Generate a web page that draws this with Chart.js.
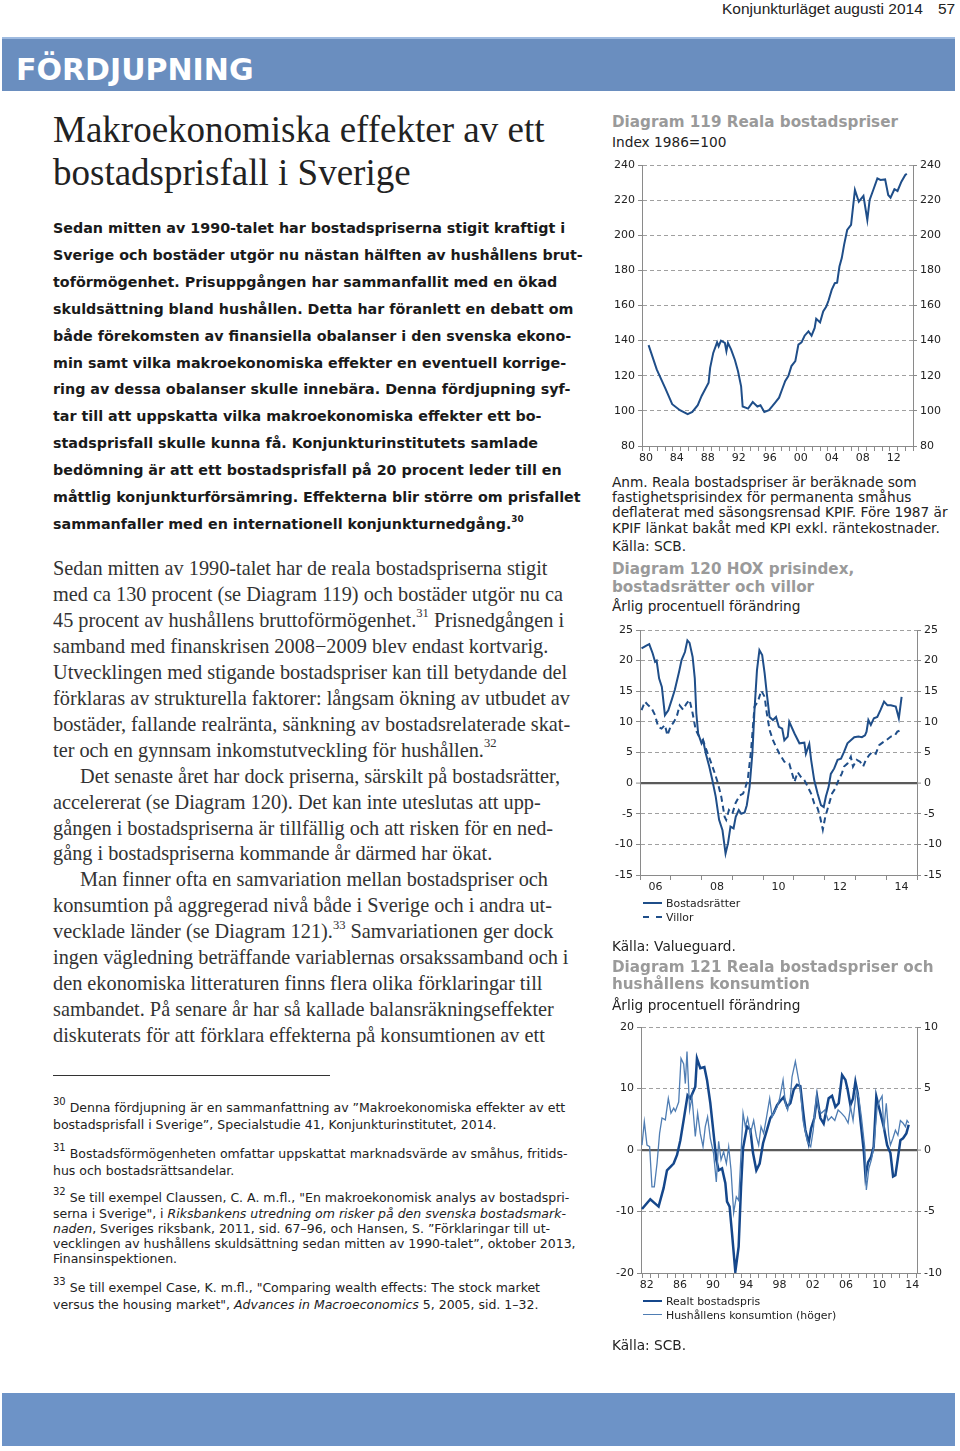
<!DOCTYPE html>
<html lang="sv">
<head>
<meta charset="utf-8">
<title>Makroekonomiska effekter av ett bostadsprisfall i Sverige</title>
<script src="https://cdn.jsdelivr.net/npm/chart.js@4.4.0/dist/chart.umd.min.js"></script>
<style>
  html, body { margin: 0; padding: 0; background: #fff; }
  #page { position: relative; width: 960px; height: 1451px; overflow: hidden; font-family: "DejaVu Sans", Verdana, sans-serif; color: #1a1a1a; }
  .abs { position: absolute; white-space: nowrap; }
  .band { position: absolute; left: 2px; width: 953px; background: #6a8ebf; }
  .hdr { font: 15.5px "Liberation Sans", Arial, sans-serif; color: #222; line-height: 18px; }
  .bandtitle { font: bold 30px "DejaVu Sans", sans-serif; color: #fff; line-height: 36px; }
  .title { font: 37px "Liberation Serif", serif; color: #222; line-height: 42px; }
  .lead { font: bold 14.3px "DejaVu Sans", sans-serif; color: #1a1a1a; line-height: 18px; }
  .body { font: 20.3px "Liberation Serif", serif; color: #333; line-height: 24px; }
  .fn { font: 12.5px "DejaVu Sans", sans-serif; color: #222; line-height: 15px; }
  .dtitle { font: bold 15.2px "DejaVu Sans", sans-serif; color: #9a9a9a; line-height: 18px; }
  .dsub { font: 13.7px "DejaVu Sans", sans-serif; color: #222; line-height: 16px; }
  .leg { font: 10.9px "DejaVu Sans", sans-serif; color: #222; line-height: 13px; }
  sup { font-size: 62%; line-height: 0; position: relative; top: -0.15em; vertical-align: super; }
  .fn sup { font-size: 80%; }
  canvas { position: absolute; }
  .sample { position: absolute; width: 19px; height: 0; }
</style>
</head>
<body>
<div id="page">
  <div class="band" style="top:37px;height:54px;border-top:2px solid #9fbbe0;box-sizing:border-box;"></div>
  <div class="band" style="top:1393px;height:53px;background:#6d93c7;"></div>
  <div class="abs" style="left:53px;top:1075px;width:277px;height:1px;background:#333;"></div>

  <canvas id="c119" width="355" height="320" style="left:600px;top:150px;width:355px;height:320px;"></canvas>
  <canvas id="c120" width="355" height="285" style="left:600px;top:615px;width:355px;height:285px;"></canvas>
  <canvas id="c121" width="355" height="285" style="left:600px;top:1012px;width:355px;height:285px;"></canvas>

  <div class="sample" style="left:643px;top:902px;border-top:2px solid #1f4e89;"></div>
  <div class="sample" style="left:643px;top:916px;border-top:2px dashed #1f4e89;"></div>
  <div class="sample" style="left:643px;top:1300px;border-top:2.5px solid #15478b;"></div>
  <div class="sample" style="left:643px;top:1314px;border-top:1.5px solid #4f7db3;"></div>
</div>

<script>
// Diagram 119 – Reala bostadspriser, index 1986=100
const realPriceYears = [1980.85, 1981.9, 1983.0, 1983.9, 1984.9, 1985.9, 1986.5, 1987.2, 1987.7, 1988.6,
  1988.8, 1989.2, 1989.7, 1989.9, 1990.2, 1990.7, 1990.9, 1991.1, 1991.5, 1992.0,
  1992.4, 1992.8, 1993.0, 1993.7, 1994.3, 1994.9, 1995.3, 1995.8, 1996.4, 1996.8,
  1997.2, 1997.7, 1998.1, 1998.5, 1998.9, 1999.3, 1999.8, 2000.2, 2000.6, 2001.0,
  2001.5, 2001.9, 2002.3, 2002.5, 2003.0, 2003.4, 2003.8, 2004.1, 2004.5, 2004.9,
  2005.2, 2005.5, 2005.8, 2006.1, 2006.5, 2007.0, 2007.5, 2008.0, 2008.6, 2009.1,
  2009.4, 2009.9, 2010.4, 2010.8, 2011.4, 2011.8, 2012.1, 2012.6, 2013.0, 2013.5,
  2014.0, 2014.2];
const realPriceIndex = [137.4, 123.6, 113.0, 103.8, 100.4, 98.1, 99.4, 103.2, 108.5, 116.0,
  124.5, 133.0, 139.0, 136.8, 140.0, 138.7, 134.0, 138.7, 135.0, 129.0,
  122.6, 114.0, 102.5, 101.3, 105.0, 102.5, 103.2, 99.4, 100.4, 102.5,
  104.7, 107.5, 112.3, 117.0, 119.8, 125.5, 128.3, 137.7, 139.0, 142.8,
  145.3, 142.8, 147.2, 152.5, 150.4, 156.6, 159.4, 163.0, 168.9, 172.7,
  173.0, 182.2, 187.0, 194.5, 203.0, 205.9, 225.8, 219.1, 222.4, 208.7,
  220.1, 226.2, 232.4, 231.5, 231.8, 222.9, 221.4, 226.2, 225.2, 230.5,
  234.3, 235.0];
const ticks119 = [80, 100, 120, 140, 160, 180, 200, 220, 240];

// Diagram 120 – HOX prisindex, årlig procentuell förändring
const hoxBrYears = [2006.05, 2006.22, 2006.3, 2006.41, 2006.49, 2006.54, 2006.62, 2006.71, 2006.81, 2006.92,
  2007.03, 2007.13, 2007.27, 2007.35, 2007.46, 2007.54, 2007.61, 2007.71, 2007.78, 2007.83,
  2007.89, 2008.0, 2008.05, 2008.14, 2008.25, 2008.35, 2008.46, 2008.57, 2008.68, 2008.78,
  2008.86, 2008.94, 2009.04, 2009.11, 2009.21, 2009.29, 2009.4, 2009.47, 2009.56, 2009.65,
  2009.72, 2009.8, 2009.88, 2009.97, 2010.05, 2010.12, 2010.21, 2010.32, 2010.42, 2010.51,
  2010.62, 2010.69, 2010.8, 2010.85, 2011.02, 2011.18, 2011.34, 2011.39, 2011.5, 2011.56,
  2011.66, 2011.77, 2011.88, 2011.97, 2012.04, 2012.13, 2012.2, 2012.31, 2012.42, 2012.53,
  2012.63, 2012.74, 2012.85, 2012.96, 2013.1, 2013.21, 2013.31, 2013.36, 2013.42, 2013.5,
  2013.6, 2013.71, 2013.82, 2013.93, 2014.04, 2014.15, 2014.31, 2014.41, 2014.5];
const hoxBrValues = [22.0, 22.5, 22.7, 21.2, 19.8, 20.0, 17.1, 15.7, 11.1, 11.9,
  13.6, 15.2, 18.2, 20.1, 21.4, 23.3, 22.9, 20.6, 17.1, 11.4,
  8.1, 6.5, 7.0, 4.8, 2.7, 0.5, -2.2, -6.0, -7.7, -11.5,
  -9.8, -7.1, -7.4, -5.5, -4.4, -5.0, -4.8, -3.6, -0.6, 4.8,
  11.9, 18.4, 21.7, 20.9, 17.9, 14.6, 10.8, 10.3, 10.8, 9.2,
  8.9, 7.0, 7.6, 10.0, 8.1, 6.5, 6.6, 4.8, 6.4, 3.8,
  0.5, -1.7, -3.6, -3.9, -2.2, -0.6, 1.5, 2.4, 3.8, 4.0,
  5.1, 6.5, 7.0, 7.5, 7.6, 7.5, 7.8, 8.4, 10.3, 9.5,
  10.6, 10.8, 12.0, 13.3, 12.7, 12.7, 12.5, 10.6, 14.1];
const hoxVillorYears = [2006.05, 2006.16, 2006.27, 2006.38, 2006.49, 2006.59, 2006.7, 2006.81, 2006.89, 2006.99,
  2007.1, 2007.19, 2007.29, 2007.4, 2007.51, 2007.61, 2007.71, 2007.81, 2007.92, 2008.05,
  2008.18, 2008.32, 2008.43, 2008.53, 2008.64, 2008.75, 2008.8, 2008.89, 2009.0, 2009.11,
  2009.24, 2009.35, 2009.43, 2009.5, 2009.61, 2009.72, 2009.83, 2009.94, 2010.05, 2010.12,
  2010.21, 2010.32, 2010.42, 2010.53, 2010.69, 2010.85, 2011.02, 2011.12, 2011.23, 2011.34,
  2011.45, 2011.56, 2011.66, 2011.77, 2011.85, 2011.94, 2012.02, 2012.13, 2012.24, 2012.34,
  2012.45, 2012.56, 2012.63, 2012.74, 2012.85, 2012.92, 2013.04, 2013.15, 2013.25, 2013.34,
  2013.45, 2013.55, 2013.66, 2013.77, 2013.9, 2014.0, 2014.15, 2014.28, 2014.36, 2014.5];
const hoxVillorValues = [11.9, 13.3, 12.7, 12.2, 11.1, 9.2, 8.9, 9.5, 7.8, 9.2,
  10.0, 10.8, 12.7, 12.0, 13.0, 13.6, 11.4, 8.7, 7.6, 7.0,
  5.1, 3.2, 1.6, 0.0, -2.2, -5.5, -6.0, -4.4, -5.0, -3.2,
  -2.0, -1.7, -0.6, 0.5, 5.4, 12.5, 13.3, 15.1, 14.1, 11.4,
  8.7, 7.0, 5.9, 4.8, 3.5, 3.2, 0.2, 1.8, 1.0, 0.5,
  -0.6, -1.7, -3.3, -4.1, -5.5, -7.6, -5.5, -3.6, -1.7, -0.9,
  0.5, 1.6, 2.7, 3.2, 4.3, 2.7, 3.8, 3.5, 2.7, 3.8,
  4.6, 5.1, 4.8, 6.2, 6.7, 7.0, 7.6, 7.8, 8.4, 8.7];
const ticks120 = [-15, -10, -5, 0, 5, 10, 15, 20, 25];

// Diagram 121 – Reala bostadspriser och hushållens konsumtion, årlig procentuell förändring
const realtPrisYears = [1981.98, 1982.98, 1983.98, 1984.58, 1984.99, 1985.79, 1986.2, 1986.6, 1987.0, 1987.47,
  1987.8, 1988.4, 1988.6, 1989.0, 1989.49, 1989.81, 1990.21, 1990.6, 1990.93, 1991.21,
  1991.62, 1992.02, 1992.22, 1992.53, 1992.82, 1993.22, 1993.62, 1993.91, 1994.15, 1994.63,
  1995.03, 1995.35, 1995.75, 1996.15, 1996.56, 1997.04, 1997.44, 1997.84, 1998.25, 1998.65,
  1999.04, 1999.45, 1999.85, 2000.25, 2000.65, 2001.05, 2001.37, 2001.65, 2002.05, 2002.34,
  2002.74, 2003.06, 2003.46, 2003.86, 2004.19, 2004.46, 2004.87, 2005.27, 2005.67, 2006.08,
  2006.48, 2006.75, 2007.08, 2007.4, 2007.68, 2007.96, 2008.28, 2008.68, 2008.9, 2009.2,
  2009.57, 2009.88, 2010.2, 2010.6, 2011.09, 2011.5, 2011.9, 2012.22, 2012.5, 2012.77,
  2013.1, 2013.42, 2013.82, 2014.1];
const realtPrisValues = [-9.6, -8.0, -9.2, -6.2, -3.3, -2.2, -0.8, 1.6, 4.9, 8.9,
  8.4, 10.3, 14.9, 13.3, 13.5, 11.4, 7.6, 2.7, -1.6, -3.3,
  -3.0, -5.4, -8.4, -9.2, -13.5, -19.8, -15.7, -6.0, 0.3, 3.8,
  3.3, -0.5, -3.3, -2.2, 1.1, 3.3, 5.2, 6.0, 7.3, 8.0,
  8.6, 7.0, 7.6, 9.8, 10.6, 10.4, 6.5, 3.3, 1.1, 3.5,
  5.2, 8.7, 5.2, 4.3, 6.5, 8.4, 8.8, 7.0, 7.6, 12.2,
  11.4, 9.8, 7.3, 8.4, 11.1, 9.2, 4.9, 0.0, -4.3, -2.0,
  -1.1, 0.5, 8.7, 6.5, 3.8, 0.8, -0.5, -4.3, -4.1, -1.6,
  1.6, 1.9, 2.7, 4.1];
const konsumtionYears = [1981.98, 1982.26, 1982.58, 1982.9, 1983.18, 1983.46, 1983.79, 1984.1, 1984.39, 1984.79,
  1985.15, 1985.47, 1985.8, 1986.0, 1986.4, 1986.68, 1987.0, 1987.2, 1987.4, 1987.72,
  1988.0, 1988.4, 1988.68, 1989.0, 1989.33, 1989.6, 1989.88, 1990.21, 1990.6, 1990.93,
  1991.21, 1991.5, 1991.81, 1992.14, 1992.42, 1992.7, 1993.02, 1993.34, 1993.62, 1993.91,
  1994.15, 1994.43, 1994.7, 1995.03, 1995.43, 1995.75, 1996.03, 1996.32, 1996.63, 1996.96,
  1997.36, 1997.65, 1997.92, 1998.25, 1998.56, 1998.97, 1999.25, 1999.52, 1999.85, 2000.05,
  2000.45, 2000.78, 2001.05, 2001.37, 2001.9, 2002.3, 2002.6, 2003.0, 2003.27, 2003.6,
  2004.0, 2004.4, 2004.8, 2005.2, 2005.6, 2006.0, 2006.4, 2006.8, 2007.1, 2007.4,
  2007.8, 2008.1, 2008.4, 2008.8, 2009.0, 2009.3, 2009.6, 2009.9, 2010.3, 2010.6,
  2010.9, 2011.1, 2011.4, 2011.7, 2011.9, 2012.2, 2012.5, 2012.8, 2013.1, 2013.4,
  2013.7, 2013.9, 2014.1];
const konsumtionValues = [0.4, 2.3, 0.4, 0.27, -3.0, -3.0, -1.1, 1.35, 2.6, 2.45,
  4.2, 3.0, 3.4, 3.15, 3.9, 7.45, 7.0, 5.4, 8.0, 3.25,
  4.3, 1.1, 3.0, 1.35, 0.27, 1.9, 2.7, 0.95, -0.27, -2.6,
  0.7, -0.8, -0.14, -1.1, 0.27, -1.6, -5.1, -3.8, -4.1, -0.27,
  3.0, 1.9, 2.6, 1.35, 2.4, 1.1, 0.4, 1.9, 1.35, 2.6,
  4.2, 2.7, 3.1, 3.5, 4.2, 5.7, 3.8, 3.25, 4.3, 5.95,
  7.2, 5.95, 4.9, 2.4, 0.7, 0.27, 1.6, 4.5, 3.25, 3.0,
  3.25, 2.4, 2.7, 2.4, 3.25, 3.0, 2.7, 2.2, 3.5, 2.4,
  4.9, 4.2, 2.7, 0.27, -3.25, -1.5, -0.8, 0.27, 3.5, 4.0,
  4.4, 1.6, 3.8, 1.2, 0.4, 0.95, 1.6, 1.2, 2.4, 2.2,
  1.9, 2.4, 2.2];
const ticks121Left = [-20, -10, 0, 10, 20];
const ticks121Right = [-10, -5, 0, 5, 10];

const page = document.getElementById('page');

// Lägger en textrad med vertikal mittpunkt yc
function put(html, x, yc, cls) {
  const d = document.createElement('div');
  d.className = 'abs ' + cls;
  d.innerHTML = html;
  d.style.left = x + 'px';
  page.appendChild(d);
  d.style.top = (yc - d.offsetHeight / 2) + 'px';
  return d;
}

// Sidhuvud
put('Konjunkturläget augusti 2014', 722, 9, 'hdr');
put('57', 938, 9, 'hdr');
put('FÖRDJUPNING', 16, 70, 'bandtitle');

// Rubrik
put('Makroekonomiska effekter av ett', 53, 130, 'title');
put('bostadsprisfall i Sverige', 53, 173, 'title');

// Ingress
const leadLines = [
  'Sedan mitten av 1990-talet har bostadspriserna stigit kraftigt i',
  'Sverige och bostäder utgör nu nästan hälften av hushållens brut-',
  'toförmögenhet. Prisuppgången har sammanfallit med en ökad',
  'skuldsättning bland hushållen. Detta har föranlett en debatt om',
  'både förekomsten av finansiella obalanser i den svenska ekono-',
  'min samt vilka makroekonomiska effekter en eventuell korrige-',
  'ring av dessa obalanser skulle innebära. Denna fördjupning syf-',
  'tar till att uppskatta vilka makroekonomiska effekter ett bo-',
  'stadsprisfall skulle kunna få. Konjunkturinstitutets samlade',
  'bedömning är att ett bostadsprisfall på 20 procent leder till en',
  'måttlig konjunkturförsämring. Effekterna blir större om prisfallet',
  'sammanfaller med en internationell konjunkturnedgång.<sup>30</sup>'
];
leadLines.forEach((t, i) => put(t, 53, 228 + i * 26.9, 'lead'));

// Brödtext
const bodyLines = [
  'Sedan mitten av 1990-talet har de reala bostadspriserna stigit',
  'med ca 130 procent (se Diagram 119) och bostäder utgör nu ca',
  '45 procent av hushållens bruttoförmögenhet.<sup>31</sup> Prisnedgången i',
  'samband med finanskrisen 2008−2009 blev endast kortvarig.',
  'Utvecklingen med stigande bostadspriser kan till betydande del',
  'förklaras av strukturella faktorer: långsam ökning av utbudet av',
  'bostäder, fallande realränta, sänkning av bostadsrelaterade skat-',
  'ter och en gynnsam inkomstutveckling för hushållen.<sup>32</sup>',
  'Det senaste året har dock priserna, särskilt på bostadsrätter,',
  'accelererat (se Diagram 120). Det kan inte uteslutas att upp-',
  'gången i bostadspriserna är tillfällig och att risken för en ned-',
  'gång i bostadspriserna kommande år därmed har ökat.',
  'Man finner ofta en samvariation mellan bostadspriser och',
  'konsumtion på aggregerad nivå både i Sverige och i andra ut-',
  'vecklade länder (se Diagram 121).<sup>33</sup> Samvariationen ger dock',
  'ingen vägledning beträffande variablernas orsakssamband och i',
  'den ekonomiska litteraturen finns flera olika förklaringar till',
  'sambandet. På senare år har så kallade balansräkningseffekter',
  'diskuterats för att förklara effekterna på konsumtionen av ett'
];
bodyLines.forEach((t, i) => put(t, (i === 8 || i === 12) ? 80 : 53, 568 + i * 25.95, 'body'));

// Fotnoter
const footnotes = [
  ['<sup>30</sup> Denna fördjupning är en sammanfattning av ”Makroekonomiska effekter av ett', 1107],
  ['bostadsprisfall i Sverige”, Specialstudie 41, Konjunkturinstitutet, 2014.', 1124],
  ['<sup>31</sup> Bostadsförmögenheten omfattar uppskattat marknadsvärde av småhus, fritids-', 1153],
  ['hus och bostadsrättsandelar.', 1170],
  ['<sup>32</sup> Se till exempel Claussen, C. A. m.fl., "En makroekonomisk analys av bostadspri-', 1197],
  ['serna i Sverige", i <i>Riksbankens utredning om risker på den svenska bostadsmark-</i>', 1213],
  ['<i>naden</i>, Sveriges riksbank, 2011, sid. 67–96, och Hansen, S. ”Förklaringar till ut-', 1228],
  ['vecklingen av hushållens skuldsättning sedan mitten av 1990-talet”, oktober 2013,', 1243],
  ['Finansinspektionen.', 1258],
  ['<sup>33</sup> Se till exempel Case, K. m.fl., "Comparing wealth effects: The stock market', 1287],
  ['versus the housing market", <i>Advances in Macroeconomics</i> 5, 2005, sid. 1–32.', 1304]
];
footnotes.forEach(([t, y]) => put(t, 53, y, 'fn'));

// Högerspalt
put('Diagram 119 Reala bostadspriser', 612, 122, 'dtitle');
put('Index 1986=100', 612, 142, 'dsub');
put('Anm. Reala bostadspriser är beräknade som', 612, 482, 'dsub');
put('fastighetsprisindex för permanenta småhus', 612, 497, 'dsub');
put('deflaterat med säsongsrensad KPIF. Före 1987 är', 612, 512, 'dsub');
put('KPIF länkat bakåt med KPI exkl. räntekostnader.', 612, 528, 'dsub');
put('Källa: SCB.', 612, 546, 'dsub');
put('Diagram 120 HOX prisindex,', 612, 569, 'dtitle');
put('bostadsrätter och villor', 612, 587, 'dtitle');
put('Årlig procentuell förändring', 612, 606, 'dsub');
put('Bostadsrätter', 666, 903, 'leg');
put('Villor', 666, 917, 'leg');
put('Källa: Valueguard.', 612, 946, 'dsub');
put('Diagram 121 Reala bostadspriser och', 612, 967, 'dtitle');
put('hushållens konsumtion', 612, 984, 'dtitle');
put('Årlig procentuell förändring', 612, 1005, 'dsub');
put('Realt bostadspris', 666, 1301, 'leg');
put('Hushållens konsumtion (höger)', 666, 1315, 'leg');
put('Källa: SCB.', 612, 1345, 'dsub');

// ---- Diagram ----
const TICK_FONT = { family: 'DejaVu Sans', size: 11 };
const GRID_GRAY = '#a0a0a0';
const AXIS_GRAY = '#8a8a8a';

function points(xs, ys) {
  return xs.map((x, i) => ({ x: x, y: ys[i] }));
}

function yAxis(pos, tickValues, width, withGrid) {
  const min = tickValues[0], max = tickValues[tickValues.length - 1];
  return {
    type: 'linear', position: pos, min: min, max: max,
    afterBuildTicks: s => { s.ticks = tickValues.map(v => ({ value: v })); },
    ticks: { font: TICK_FONT, color: '#222', padding: 3 },
    grid: {
      drawOnChartArea: withGrid,
      drawTicks: true, tickLength: 4, tickColor: AXIS_GRAY, tickWidth: 1,
      color: c => (c.tick && c.tick.value === 0) ? '#5a5a5a' : ((c.tick && c.tick.value === min) ? 'rgba(0,0,0,0)' : GRID_GRAY),
      lineWidth: c => (c.tick && c.tick.value === 0) ? 2.2 : 1
    },
    border: { display: true, color: AXIS_GRAY, width: 1, dash: c => (c.tick && c.tick.value === 0) ? [] : [4, 3] },
    afterFit: s => { s.width = width; }
  };
}

function xAxis(min, max, every, mod, height, offsetPx) {
  return {
    type: 'linear', position: 'bottom', min: min, max: max,
    afterBuildTicks: s => {
      const t = [];
      for (let y = Math.ceil(min); y <= Math.floor(max); y++) t.push({ value: y });
      s.ticks = t;
    },
    ticks: {
      autoSkip: false, maxRotation: 0, font: TICK_FONT, color: '#222', padding: 1,
      labelOffset: offsetPx,
      callback: v => (v % every === mod && v < max - 0.5) ? String(v % 100).padStart(2, '0') : ''
    },
    grid: { drawOnChartArea: false, drawTicks: true, tickLength: 5, tickColor: AXIS_GRAY, color: AXIS_GRAY },
    border: { display: true, color: AXIS_GRAY, width: 1 },
    afterFit: s => { s.height = height; }
  };
}

function lineSet(data, color, width, dash, axis) {
  return {
    data: data, borderColor: color, borderWidth: width, borderDash: dash || [],
    pointRadius: 0, fill: false, tension: 0, yAxisID: axis || 'y'
  };
}

const baseOptions = {
  responsive: false, animation: false, devicePixelRatio: 1,
  layout: { padding: { top: 15, left: 0, right: 0, bottom: 0 } },
  plugins: { legend: { display: false }, tooltip: { enabled: false } }
};

new Chart(document.getElementById('c119'), {
  type: 'line',
  data: { datasets: [lineSet(points(realPriceYears, realPriceIndex), '#1f4e89', 2)] },
  options: Object.assign({}, baseOptions, {
    scales: {
      x: xAxis(1980, 2015, 4, 0, 24, 3.9),
      y: yAxis('left', ticks119, 42, true),
      y2: yAxis('right', ticks119, 42, false)
    }
  })
});

new Chart(document.getElementById('c120'), {
  type: 'line',
  data: {
    datasets: [
      lineSet(points(hoxBrYears, hoxBrValues), '#1f4e89', 2),
      lineSet(points(hoxVillorYears, hoxVillorValues), '#1f4e89', 2, [6, 4])
    ]
  },
  options: Object.assign({}, baseOptions, {
    scales: {
      x: xAxis(2006, 2015, 2, 0, 25, 15.4),
      y: yAxis('left', ticks120, 40, true),
      y2: yAxis('right', ticks120, 38, false)
    }
  })
});

new Chart(document.getElementById('c121'), {
  type: 'line',
  data: {
    datasets: [
      lineSet(points(konsumtionYears, konsumtionValues), '#4f7db3', 1.3, null, 'y2'),
      lineSet(points(realtPrisYears, realtPrisValues), '#15478b', 2.5)
    ]
  },
  options: Object.assign({}, baseOptions, {
    scales: {
      x: xAxis(1981.86, 2015.1, 4, 2, 24, 4.5),
      y: yAxis('left', ticks121Left, 41, true),
      y2: yAxis('right', ticks121Right, 38, false)
    }
  })
});
</script>
</body>
</html>
